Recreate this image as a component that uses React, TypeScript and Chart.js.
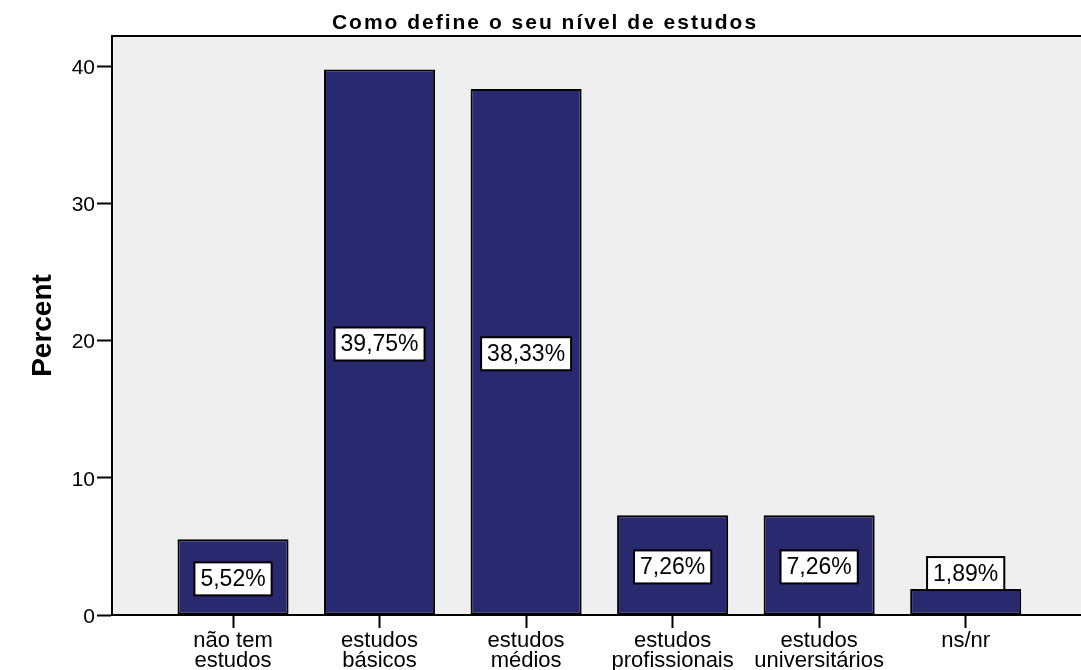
import React, { useEffect, useRef } from 'react';
import { Chart, registerables } from 'chart.js';

Chart.register(...registerables);

const FONT = '"Liberation Sans", Arial, Helvetica, sans-serif';

const TITLE = 'Como define o seu nível de estudos';
const Y_TITLE = 'Percent';
const CATEGORIES: string[][] = [
  ['não tem', 'estudos'],
  ['estudos', 'básicos'],
  ['estudos', 'médios'],
  ['estudos', 'profissionais'],
  ['estudos', 'universitários'],
  ['ns/nr'],
];
const PERCENTS: number[] = [5.52, 39.75, 38.33, 7.26, 7.26, 1.89];
const Y_TICKS: number[] = [0, 10, 20, 30, 40];

const fmt = (v: number) => v.toFixed(2).replace('.', ',') + '%';

const decorPlugin = {
  id: 'decor',
  beforeDraw(chart: any) {
    const { ctx, chartArea } = chart;
    ctx.save();
    ctx.fillStyle = '#efefef';
    ctx.fillRect(chartArea.left, chartArea.top, chartArea.right - chartArea.left, chartArea.bottom - chartArea.top);
    ctx.restore();
  },
  afterDatasetsDraw(chart: any) {
    const { ctx, chartArea } = chart;
    ctx.save();
    // top border
    ctx.strokeStyle = '#000';
    ctx.lineWidth = 2;
    ctx.beginPath();
    ctx.moveTo(chartArea.left - 1, chartArea.top);
    ctx.lineTo(chartArea.right, chartArea.top);
    ctx.stroke();

    // value labels
    const meta = chart.getDatasetMeta(0);
    ctx.font = `23px ${FONT}`;
    meta.data.forEach((bar: any, i: number) => {
      const { x, y, base } = bar.getProps(['x', 'y', 'base'], true);
      const text = fmt(PERCENTS[i]);
      const w = ctx.measureText(text).width + 12;
      const h = 33;
      let cy = (y + base) / 2 + 2;
      if (base - y < h + 4) cy = y - h / 2 + 1;
      ctx.fillStyle = '#fff';
      ctx.fillRect(x - w / 2, cy - h / 2, w, h);
      ctx.strokeStyle = '#000';
      ctx.lineWidth = 2;
      ctx.strokeRect(x - w / 2, cy - h / 2, w, h);
      ctx.fillStyle = '#000';
      ctx.textAlign = 'center';
      ctx.textBaseline = 'middle';
      ctx.fillText(text, x, cy + 1);
    });
    ctx.restore();
  },
  afterDraw(chart: any) {
    const { ctx } = chart;
    ctx.save();
    ctx.font = `bold 21px ${FONT}`;
    (ctx as any).letterSpacing = '2px';
    ctx.fillStyle = '#000';
    ctx.textAlign = 'center';
    ctx.textBaseline = 'alphabetic';
    ctx.fillText(TITLE, 545, 29);
    (ctx as any).letterSpacing = '0px';
    ctx.restore();
  },
};

export default function App() {
  const canvasRef = useRef<HTMLCanvasElement | null>(null);

  useEffect(() => {
    const canvas = canvasRef.current;
    if (!canvas) return;
    const chart = new Chart(canvas, {
      type: 'bar',
      data: {
        datasets: [
          {
            label: Y_TITLE,
            data: PERCENTS.map((v, i) => ({ x: i + 1, y: v })),
            backgroundColor: '#29296f',
            borderColor: '#000',
            borderWidth: 2,
            borderSkipped: false,
            barPercentage: 1,
            categoryPercentage: 0.758,
          } as any,
        ],
      },
      options: {
        animation: false,
        responsive: false,
        devicePixelRatio: 1,
        layout: { padding: { top: 36, left: 0, right: 0, bottom: 0 } },
        plugins: {
          legend: { display: false },
          tooltip: { enabled: false },
          title: { display: false },
        },
        scales: {
          x: {
            type: 'linear',
            min: 0.174,
            max: 6.787,
            offset: false,
            afterBuildTicks: (s: any) => {
              s.ticks = CATEGORIES.map((_, i) => ({ value: i + 1 }));
            },
            afterFit: (s: any) => {
              s.height = 55;
            },
            ticks: {
              autoSkip: false,
              maxRotation: 0,
              minRotation: 0,
              padding: 3,
              color: '#000',
              font: { family: FONT, size: 22, lineHeight: 0.91 },
              callback: (v: any) => CATEGORIES[Math.round(Number(v)) - 1] ?? '',
            },
            grid: {
              offset: false,
              drawOnChartArea: false,
              drawTicks: true,
              tickLength: 13,
              tickWidth: 2,
              tickColor: '#000',
            },
            border: { display: true, color: '#000', width: 2 },
          },
          y: {
            type: 'linear',
            min: 0,
            max: 42.19,
            afterBuildTicks: (s: any) => {
              s.ticks = Y_TICKS.map((v) => ({ value: v }));
            },
            afterFit: (s: any) => {
              s.width = 112;
            },
            ticks: {
              padding: 2,
              labelOffset: 2,
              color: '#000',
              font: { family: FONT, size: 21 },
            },
            grid: {
              drawOnChartArea: false,
              drawTicks: true,
              tickLength: 15,
              tickWidth: 2,
              tickColor: '#000',
            },
            border: { display: true, color: '#000', width: 2 },
            title: {
              display: true,
              text: Y_TITLE,
              color: '#000',
              font: { family: FONT, size: 28, weight: 'bold' },
              padding: { top: 26, bottom: 0 },
            },
          },
        },
      } as any,
      plugins: [decorPlugin],
    });
    return () => chart.destroy();
  }, []);

  return (
    <div style={{ position: 'absolute', left: 0, top: 0, width: 1081, height: 670, background: '#fff' }}>
      <canvas ref={canvasRef} width={1081} height={670} style={{ display: 'block', width: 1081, height: 670 }} />
    </div>
  );
}
